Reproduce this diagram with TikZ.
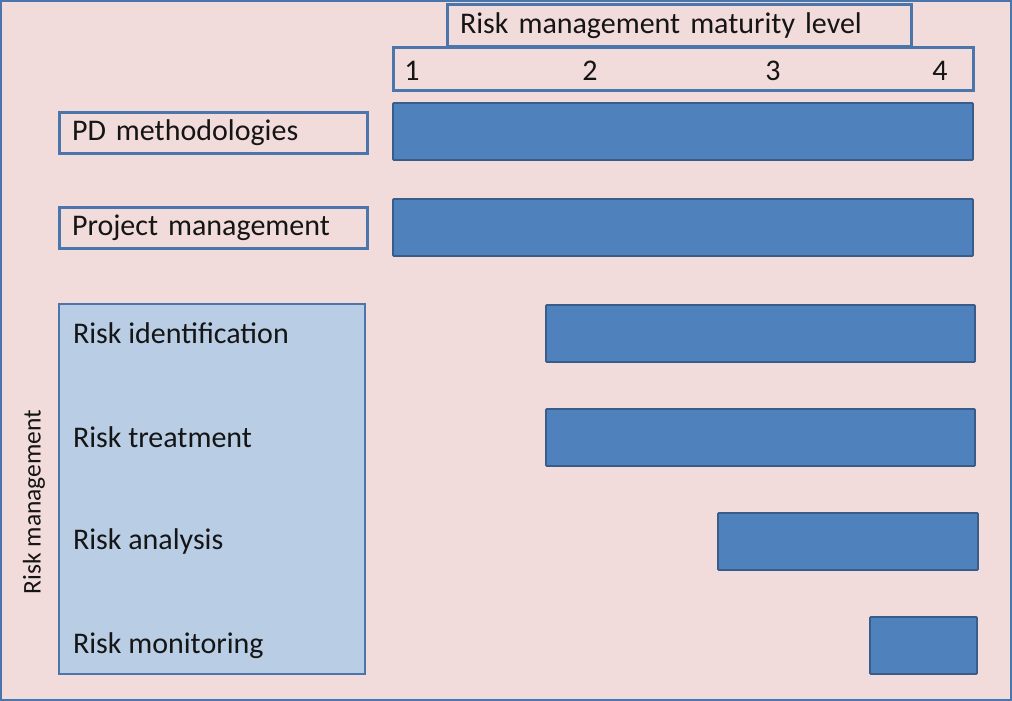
\documentclass[tikz,border=0pt]{standalone}
\usepackage{fontspec}
\setmainfont{Carlito}
\definecolor{bgpink}{HTML}{F2DCDB}
\definecolor{frameblue}{HTML}{4A76AC}
\definecolor{barblue}{HTML}{4F81BD}
\definecolor{bardark}{HTML}{385D8A}
\definecolor{lightblue}{HTML}{B9CDE5}
\definecolor{txt}{HTML}{151515}
\tikzset{
  every node/.style={outer sep=0pt, text=txt, font=\fontsize{30}{34}\selectfont},
  framebox/.style={draw=frameblue, line width=3pt, fill=bgpink, anchor=north west, inner sep=0pt},
  labelbox/.style={draw=frameblue, line width=3pt, fill=bgpink, anchor=north west, inner xsep=13pt, inner ysep=0pt, align=left},
  bar/.style={draw=bardark, line width=1.8pt, fill=barblue, anchor=north west, inner sep=0pt, rounded corners=1pt},
  item/.style={anchor=west, inner sep=0pt},
  num/.style={anchor=center, inner sep=0pt}
}
\begin{document}
\begin{tikzpicture}[x=1pt,y=-1pt]
\useasboundingbox (0,0) rectangle (1012,701);
\fill[bgpink] (0,0) rectangle (1012,701);
\draw[frameblue, line width=2pt] (1,1) rectangle (1011,700);
% header
\node[labelbox, minimum width=464pt, minimum height=42pt, text width=438pt] (hdr) at (447,5) {\raisebox{-3pt}{Risk management maturity level}};
\node[framebox, minimum width=580pt, minimum height=42pt] (scale) at (393,48) {};
\node[num] (n1) at (412,71) {1};
\node[num] (n2) at (590,71) {2};
\node[num] (n3) at (773,71) {3};
\node[num] (n4) at (940,71) {4};
% rows
\node[labelbox, minimum width=308pt, minimum height=41pt, text width=282pt] (pd) at (59,112) {PD methodologies};
\node[labelbox, minimum width=308pt, minimum height=41pt, text width=282pt] (pm) at (59,207) {Project management};
\node[bar, minimum width=580pt, minimum height=57pt] (b1) at (393,103) {};
\node[bar, minimum width=580pt, minimum height=57pt] (b2) at (393,199) {};
% risk management group
\node[draw=frameblue, line width=2.2pt, fill=lightblue, anchor=north west, inner sep=0pt, minimum width=306pt, minimum height=370pt] (rm) at (59,304) {};
\node[item] (ri) at (73,333) {Risk identification};
\node[item] (rt) at (73,437) {Risk treatment};
\node[item] (ra) at (73,541) {Risk analysis};
\node[item] (rmo) at (73,646) {Risk monitoring};
\node[rotate=90, inner sep=0pt, font=\fontsize{25.5}{28}\selectfont] (rml) at (34,502) {Risk management};
\node[bar, minimum width=429pt, minimum height=57pt] (b3) at (546,305) {};
\node[bar, minimum width=429pt, minimum height=57pt] (b4) at (546,409) {};
\node[bar, minimum width=260pt, minimum height=57pt] (b5) at (718,513) {};
\node[bar, minimum width=107pt, minimum height=57pt] (b6) at (870,617) {};
\end{tikzpicture}
\end{document}
